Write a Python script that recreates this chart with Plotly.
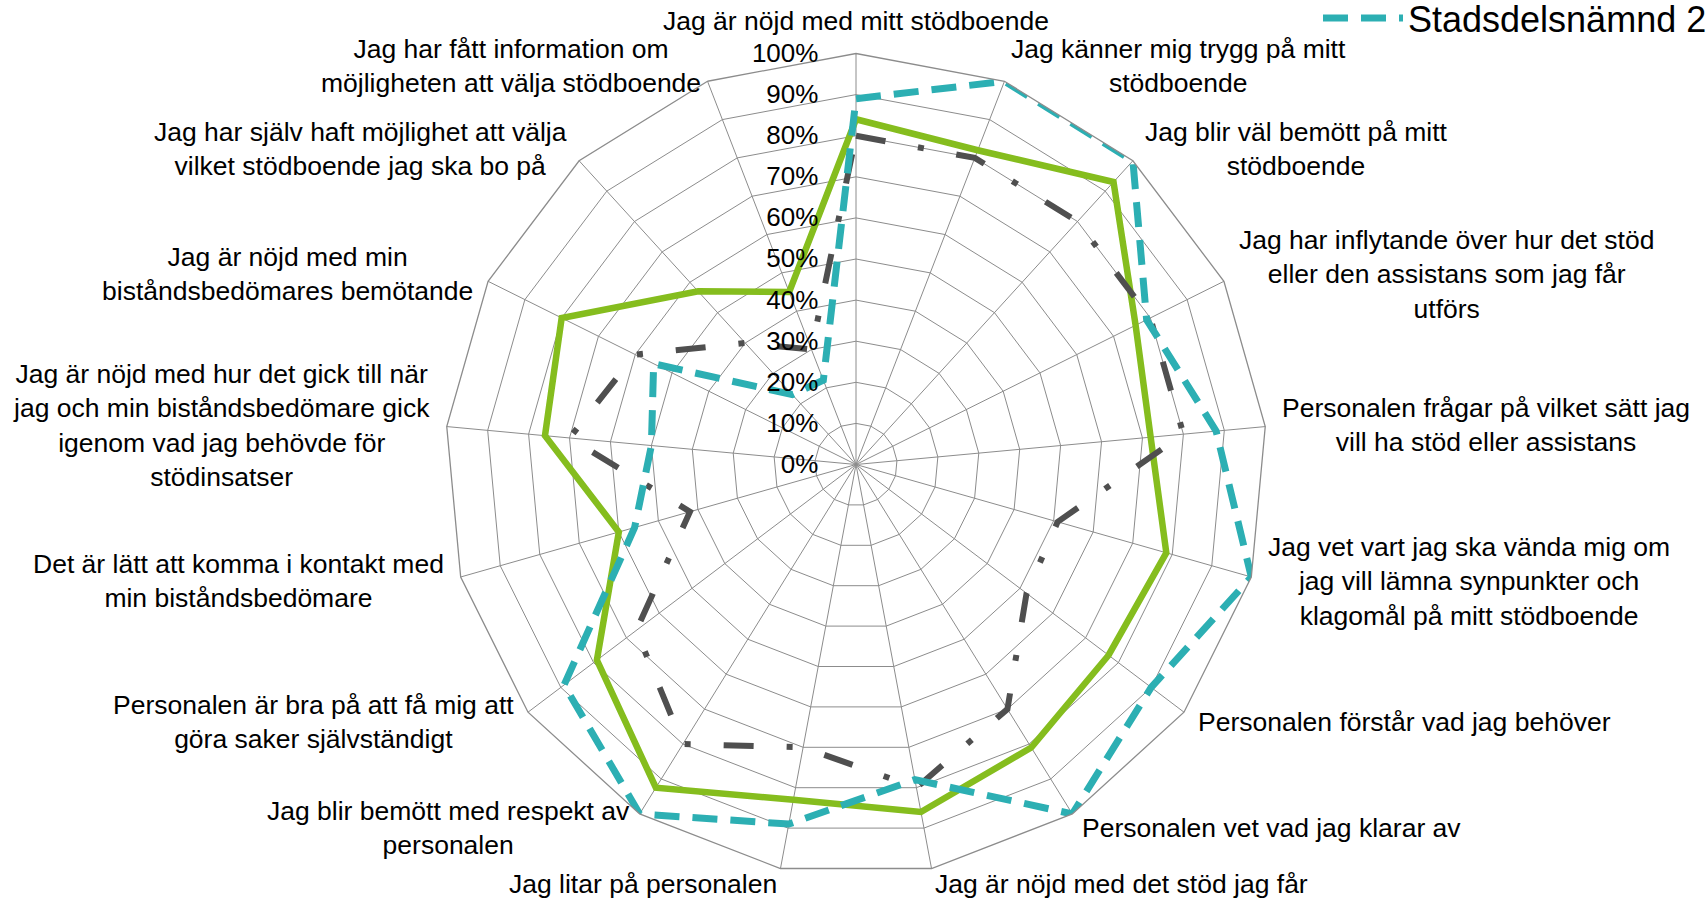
import math
import plotly.graph_objects as go

categories = [
    "Jag är nöjd med mitt stödboende",
    "Jag känner mig trygg på mitt<br>stödboende",
    "Jag blir väl bemött på mitt<br>stödboende",
    "Jag har inflytande över hur det stöd<br>eller den assistans som jag får<br>utförs",
    "Personalen frågar på vilket sätt jag<br>vill ha stöd eller assistans",
    "Jag vet vart jag ska vända mig om<br>jag vill lämna synpunkter och<br>klagomål på mitt stödboende",
    "Personalen förstår vad jag behöver",
    "Personalen vet vad jag klarar av",
    "Jag är nöjd med det stöd jag får",
    "Jag litar på personalen",
    "Jag blir bemött med respekt av<br>personalen",
    "Personalen är bra på att få mig att<br>göra saker självständigt",
    "Det är lätt att komma i kontakt med<br>min biståndsbedömare",
    "Jag är nöjd med hur det gick till när<br>jag och min biståndsbedömare gick<br>igenom vad jag behövde för<br>stödinsatser",
    "Jag är nöjd med min<br>biståndsbedömares bemötande",
    "Jag har själv haft möjlighet att välja<br>vilket stödboende jag ska bo på",
    "Jag har fått information om<br>möjligheten att välja stödboende",
]

green_values = [84, 82, 93, 76, 72, 78.5, 77, 81, 86, 83, 92.5, 79, 60, 76, 80, 57, 45]
gray_values = [80, 80, 80, 80, 80, 51, 52, 70, 80, 70, 80, 67, 42, 70, 60, 40, 30]
teal_values = [89, 100, 100, 79, 88, 100, 90, 100, 78, 89, 100, 89, 56, 50, 55, 23, 22]

series_names = ["Stadsdelsnämnd 2018", "Staden 2018", "Stadsdelsnämnd 2017"]

radial_ticks = [0, 10, 20, 30, 40, 50, 60, 70, 80, 90, 100]
radial_tick_labels = ["0%", "10%", "20%", "30%", "40%", "50%", "60%", "70%", "80%", "90%", "100%"]

FONT = "Arial, Liberation Sans, sans-serif"
GRID = "#8c8c8c"


def closed(vals):
    return list(vals) + [vals[0]]


fig = go.Figure()
fig.add_trace(go.Scatterpolar(
    r=closed(green_values), theta=closed(categories), mode="lines",
    name=series_names[0], showlegend=False,
    line=dict(color="#85bd1e", width=6.5),
))
fig.add_trace(go.Scatterpolar(
    r=closed(gray_values), theta=closed(categories), mode="lines",
    name=series_names[1], showlegend=False,
    line=dict(color="#4f4f4f", width=6, dash="30px,33px,6px,33px"),
))
fig.add_trace(go.Scatterpolar(
    r=closed(teal_values), theta=closed(categories), mode="lines",
    name=series_names[2], showlegend=True,
    line=dict(color="#2cafb3", width=7, dash="25px,13px"),
))

W, H = 1706, 899
cx, cy, R = 856, 464.5, 411
label_gap = 16

# category labels placed just outside each spoke end (same geometry as the polar domain)
annotations = []
n = len(categories)
for i, cat in enumerate(categories):
    ang = 2 * math.pi * i / n
    s, c = math.sin(ang), math.cos(ang)
    px = cx + (R + label_gap) * s
    py = cy - (R + label_gap) * c
    if s > 0.05:
        xa = "left"
    elif s < -0.05:
        xa = "right"
    else:
        xa = "center"
    ya = "bottom" if (abs(s) <= 0.05 and c > 0) else "middle"
    annotations.append(dict(
        text=cat, x=px / W, y=1 - py / H, xref="paper", yref="paper",
        xanchor=xa, yanchor=ya, align="center", showarrow=False,
        font=dict(size=26.5, family=FONT, color="black"), borderpad=0,
    ))

fig.update_layout(
    width=W, height=H,
    margin=dict(l=0, r=0, t=0, b=0, autoexpand=False),
    paper_bgcolor="white", plot_bgcolor="white",
    font=dict(family=FONT, color="black", size=26),
    polar=dict(
        domain=dict(x=[(cx - R) / W, (cx + R) / W], y=[1 - (cy + R) / H, 1 - (cy - R) / H]),
        bgcolor="white",
        gridshape="linear",
        angularaxis=dict(
            rotation=90, direction="clockwise", type="category",
            categoryorder="array", categoryarray=categories,
            showgrid=True, gridcolor=GRID, gridwidth=1.3,
            showline=True, linecolor=GRID, linewidth=1.3,
            ticks="", showticklabels=False,
        ),
        radialaxis=dict(
            range=[0, 100], angle=90, side="counterclockwise",
            tickmode="array", tickvals=radial_ticks, ticktext=radial_tick_labels,
            showgrid=True, gridcolor=GRID, gridwidth=1.3,
            showline=False, ticks="outside", ticklen=28, tickcolor="rgba(0,0,0,0)",
            tickangle=90,
            tickfont=dict(size=26, family=FONT, color="black"),
        ),
    ),
    annotations=annotations,
    showlegend=True,
    legend=dict(
        orientation="h", xref="container", yref="container",
        x=1318 / W, y=1 - 18 / H, xanchor="left", yanchor="middle",
        font=dict(size=36, family=FONT, color="black"),
        itemwidth=80, bgcolor="rgba(0,0,0,0)",
    ),
)

fig.write_html(
    "out.html",
    config={"displayModeBar": False},
    post_script="document.body.style.margin='0';document.body.style.overflow='hidden';",
)
